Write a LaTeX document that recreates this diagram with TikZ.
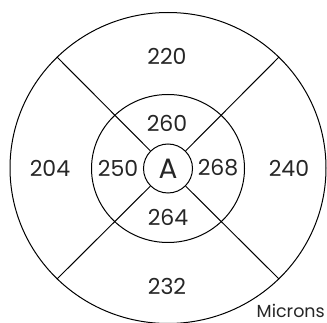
\documentclass[tikz,border=0pt]{standalone}
\usepackage{fontspec}
\setmainfont{Poppins}
\usetikzlibrary{shapes.geometric}
\begin{document}
\begin{tikzpicture}[x=1pt,y=-1pt,
  ring/.style={draw,ellipse,inner sep=0pt,line width=1pt},
  val/.style={font=\fontsize{22}{22}\selectfont,inner sep=0pt,text=black!85},
  seg/.style={line width=1pt}]
\useasboundingbox (0,0) rectangle (327,323);
\node[ring,minimum width=316pt,minimum height=311pt] (outer) at (168,168) {};
\node[ring,minimum width=153pt,minimum height=148pt] (middle) at (168,168.5) {};
\node[draw,circle,line width=1pt,minimum size=49pt,inner sep=0pt,font=\fontsize{28}{28}\selectfont,text=black!85] (A) at (168,168.5) {A};
\foreach \a in {45,135,225,315} \draw[seg] (A.\a) -- (outer.\a);
\node[val] (n220) at (167,56) {220};
\node[val] (n260) at (167,123) {260};
\node[val] (n204) at (50,168) {204};
\node[val] (n250) at (118,168) {250};
\node[val] (n268) at (218,168) {268};
\node[val] (n240) at (289,168) {240};
\node[val] (n264) at (168,217) {264};
\node[val] (n232) at (167,286) {232};
\node[font=\fontsize{17.5}{17.5}\selectfont,inner sep=0pt,anchor=base east,text=black!85] (mic) at (325,318) {Microns};
\end{tikzpicture}
\end{document}
